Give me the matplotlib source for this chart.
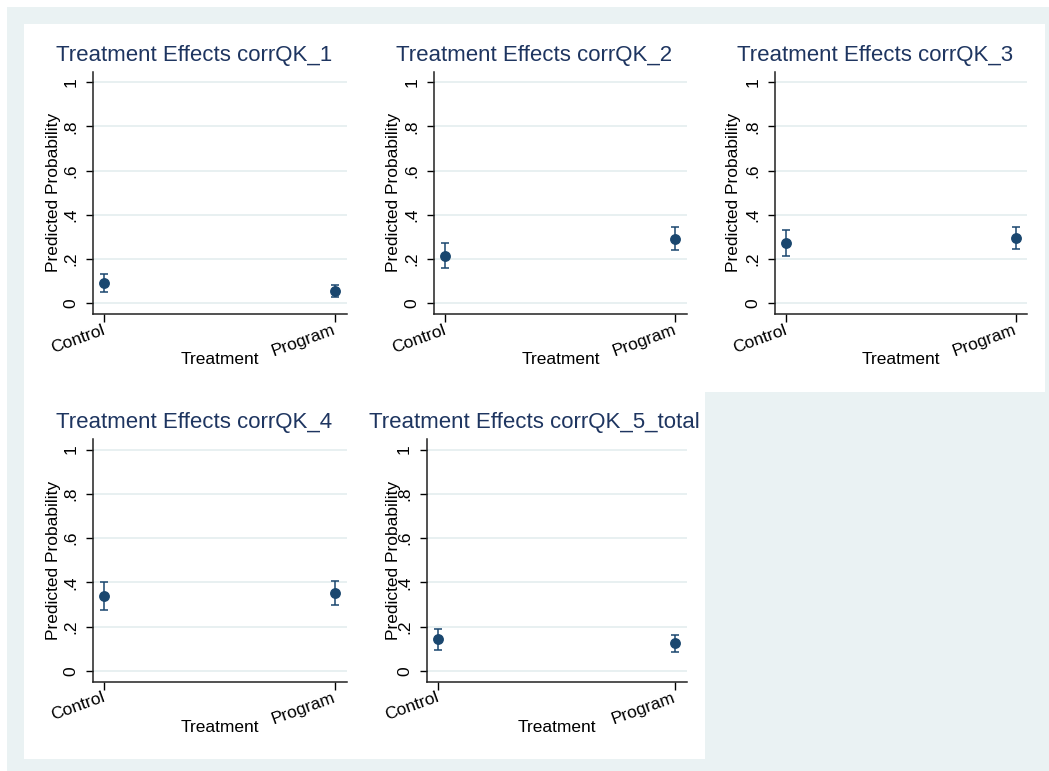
import matplotlib
matplotlib.use("Agg")
import matplotlib.pyplot as plt
from matplotlib.patches import Rectangle

plt.rcParams['font.family'] = ['Liberation Sans', 'DejaVu Sans']

# predicted probabilities with 95% CIs, one panel per outcome
outcomes = ["corrQK_1", "corrQK_2", "corrQK_3", "corrQK_4", "corrQK_5_total"]
groups = ["Control", "Program"]
control_est = [0.090, 0.216, 0.274, 0.338, 0.145]
control_lo = [0.050, 0.160, 0.213, 0.273, 0.096]
control_hi = [0.131, 0.271, 0.333, 0.400, 0.191]
program_est = [0.054, 0.291, 0.296, 0.353, 0.125]
program_lo = [0.029, 0.240, 0.244, 0.299, 0.087]
program_hi = [0.083, 0.344, 0.347, 0.404, 0.163]
yticks = [0, 0.2, 0.4, 0.6, 0.8, 1.0]
ytick_labels = ["0", ".2", ".4", ".6", ".8", "1"]

W, H = 1049, 771
BG = "#EAF2F3"
NAVY = "#1A476F"
TITLE_C = "#1E3560"
GRID_C = "#E2ECEE"

# cell grid in pixels (graph combine layout, 3 columns)
cell_x0, cell_y0 = 24.0, 24.0
cell_w, cell_h = 340.3, 367.5
axis_left = [69.3, 69.7, 70.3, 69.3, 62.4]


def fx(px):
    return px / W


def fy(py):
    return 1 - py / H


fig = plt.figure(figsize=(W / 100, H / 100), dpi=100, facecolor="white")
fig.add_artist(Rectangle((fx(7), 0), 1 - fx(7), fy(7), transform=fig.transFigure,
                         facecolor=BG, edgecolor="none", zorder=-10))

for i, name in enumerate(outcomes):
    col, row = i % 3, i // 3
    cx = cell_x0 + col * cell_w
    cy = cell_y0 + row * cell_h
    fig.add_artist(Rectangle((fx(cx), fy(cy + cell_h)), cell_w / W, cell_h / H,
                             transform=fig.transFigure, facecolor="white",
                             edgecolor="none", zorder=-5))

    left = cx + axis_left[i]
    right = cx + 322.8
    top = cy + 47.7
    bottom = cy + 290.0
    ax = fig.add_axes([fx(left), fy(bottom), (right - left) / W, (bottom - top) / H])

    ests = [control_est[i], program_est[i]]
    lo = [control_est[i] - control_lo[i], program_est[i] - program_lo[i]]
    hi = [control_hi[i] - control_est[i], program_hi[i] - program_est[i]]
    ax.errorbar([0, 1], ests, yerr=[lo, hi], fmt="none", ecolor=NAVY,
                elinewidth=1.1, capsize=2.8, capthick=1.1, zorder=3)
    ax.plot([0, 1], ests, "o", color=NAVY, markersize=6.8, zorder=4)

    ax.set_xlim(-0.048, 1.051)
    ax.set_ylim(-0.048, 1.047)
    ax.set_yticks(yticks)
    ax.set_yticklabels(ytick_labels, rotation=90, va="center", fontsize=12.5)
    ax.set_xticks([0, 1])
    ax.set_xticklabels(groups, rotation=20, ha="right", va="center",
                       rotation_mode="anchor", fontsize=12.5)
    ax.tick_params(axis="y", length=5, width=1, pad=5.5)
    ax.tick_params(axis="x", length=6, width=1, pad=5)
    ax.grid(axis="y", color=GRID_C, linewidth=1.1)
    ax.set_axisbelow(True)
    for s in ["top", "right"]:
        ax.spines[s].set_visible(False)
    for s in ["left", "bottom"]:
        ax.spines[s].set_linewidth(1.1)
        ax.spines[s].set_color("#222222")

    ax.set_ylabel("Predicted Probability", fontsize=12.5)
    ax.yaxis.set_label_coords((cx + 29.3 - left) / (right - left), 0.5)
    ax.set_xlabel("Treatment", fontsize=12.5)
    ax.xaxis.set_label_coords(0.5, -(cy + 336 - bottom) / (bottom - top))
    ax.xaxis.label.set_va("center")
    ax.yaxis.label.set_va("center")

    fig.text(fx(cx + cell_w / 2), fy(cy + 31), "Treatment Effects " + name,
             ha="center", va="center", fontsize=16, color=TITLE_C)

fig.savefig("out.png", dpi=100, facecolor=fig.get_facecolor())
